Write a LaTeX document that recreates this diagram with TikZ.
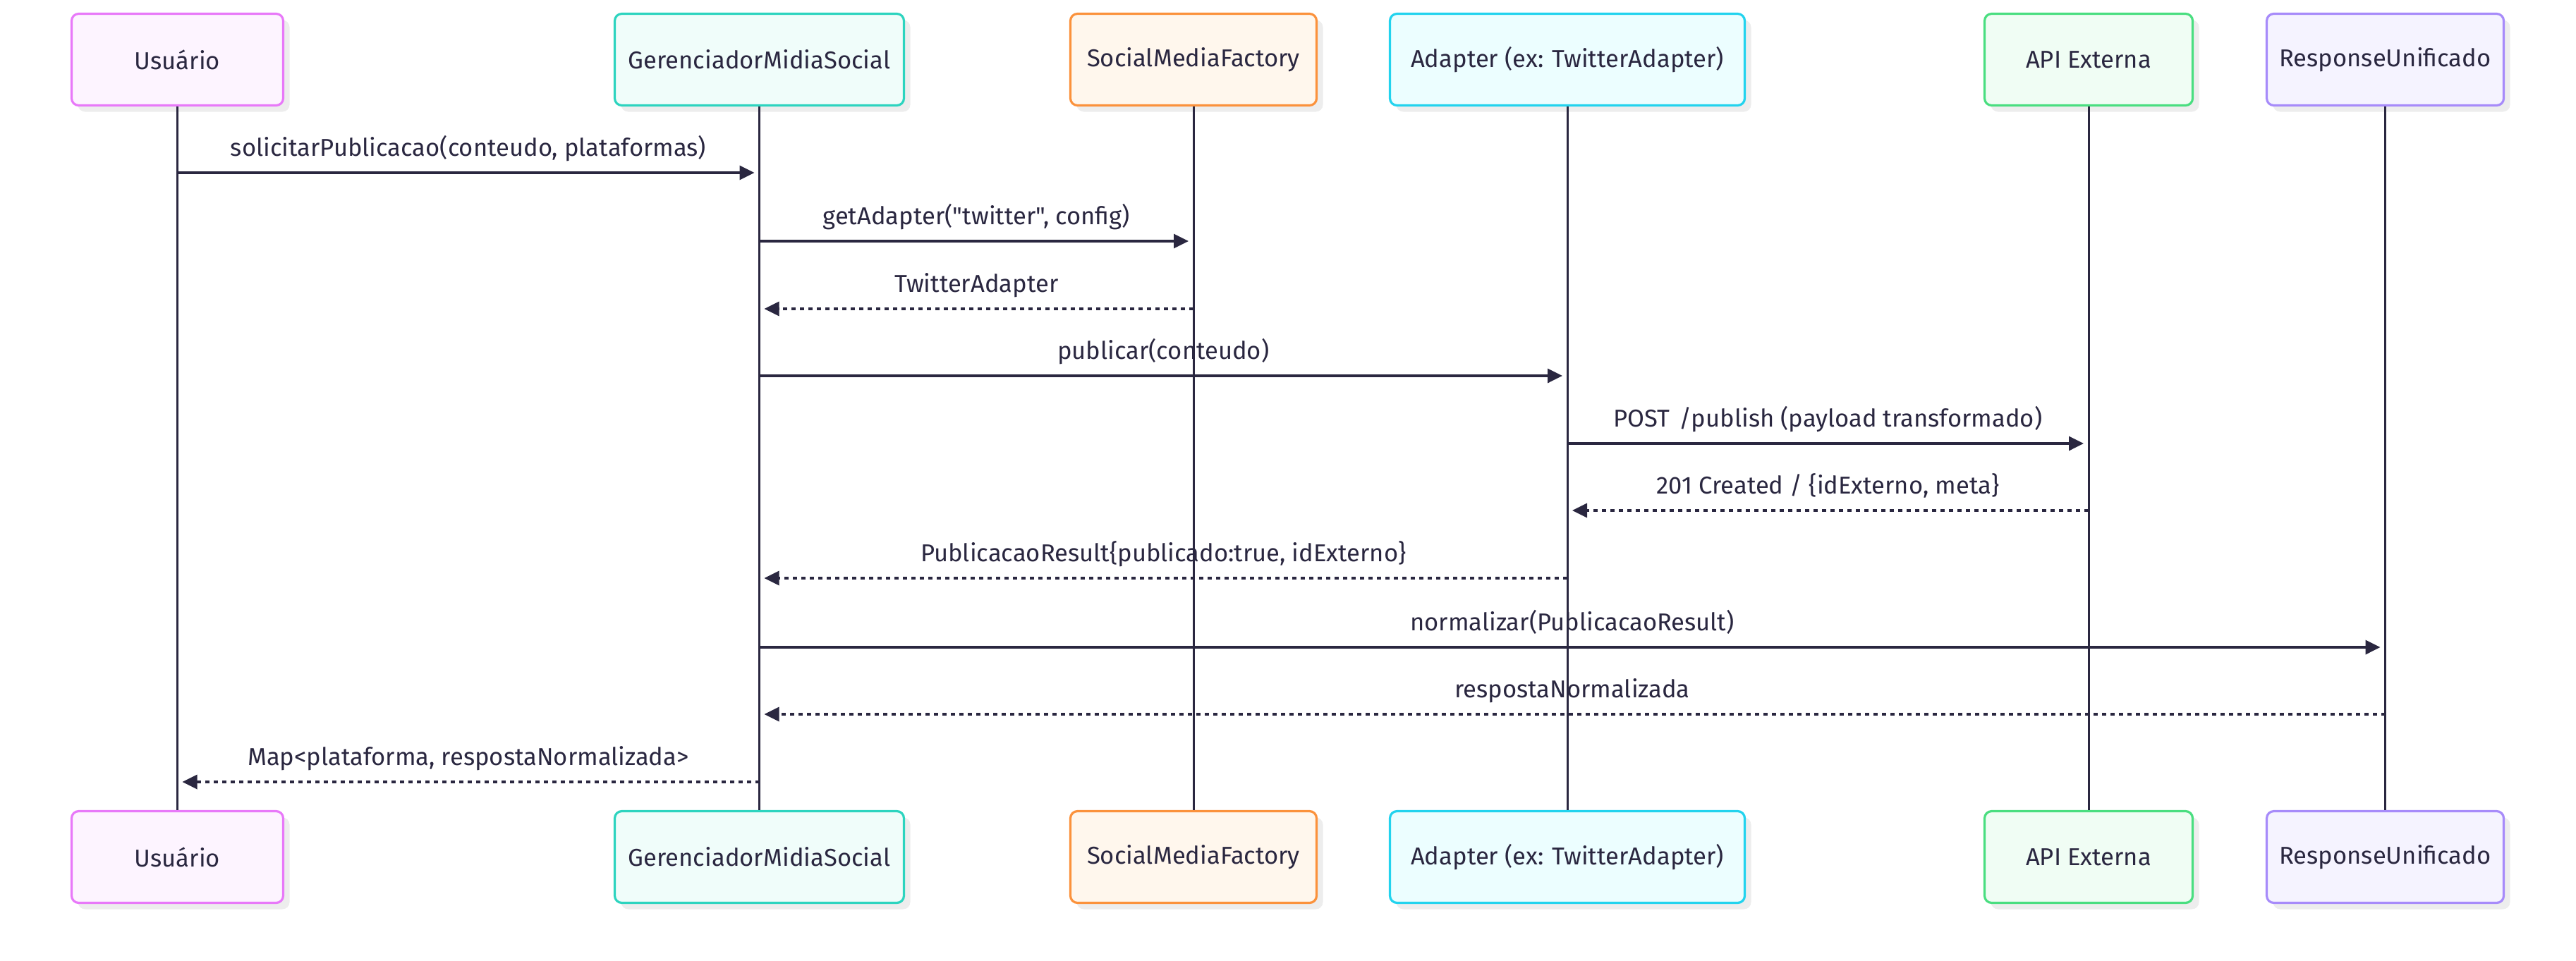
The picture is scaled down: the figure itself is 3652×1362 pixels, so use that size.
\documentclass[tikz,border=0pt]{standalone}
\usepackage{fontspec}
\setmainfont{Fira Sans}[Ligatures=TeXOff]
\usetikzlibrary{arrows.meta,shadows}
\definecolor{ink}{HTML}{2A2740}
\definecolor{pinkB}{HTML}{E879F9}\definecolor{pinkF}{HTML}{FDF4FF}
\definecolor{tealB}{HTML}{2DD4BF}\definecolor{tealF}{HTML}{F0FDFA}
\definecolor{orgB}{HTML}{FB923C}\definecolor{orgF}{HTML}{FFF7ED}
\definecolor{cyanB}{HTML}{22D3EE}\definecolor{cyanF}{HTML}{ECFEFF}
\definecolor{grnB}{HTML}{4ADE80}\definecolor{grnF}{HTML}{F0FDF4}
\definecolor{vioB}{HTML}{A78BFA}\definecolor{vioF}{HTML}{F5F3FF}
\tikzset{
  actor/.style={draw, rounded corners=5pt, line width=1.6pt, minimum height=65pt,
    inner sep=0pt, text=ink, drop shadow={shadow xshift=4.5pt, shadow yshift=-4.5pt, fill=black!7, opacity=1}},
  life/.style={draw=ink, line width=1.5pt},
  msg/.style={draw=ink, line width=1.7pt, shorten >=3.5pt,
    -{Triangle[length=10.5pt,width=10pt]}},
  reply/.style={msg, dash pattern=on 3pt off 3pt},
  lbl/.style={anchor=base, yshift=12pt, text=ink, inner sep=0pt}
}
\newcommand{\seqmsg}[5]{%
  \draw[#5] (#1.south |- 0,#3) -- node[lbl]{#4} (#2.south |- 0,#3);}
\begin{document}
\begin{tikzpicture}[x=0.5pt, y=-0.5pt, font=\fontsize{17.3}{21}\selectfont]
\useasboundingbox (0,0) rectangle (3652,1362);
% top actors
\node[actor, draw=pinkB, fill=pinkF, minimum width=150pt] (uT) at (251.5,84.5) {Usuário};
\node[actor, draw=tealB, fill=tealF, minimum width=205pt] (gT) at (1076.5,84.5) {GerenciadorMidiaSocial};
\node[actor, draw=orgB, fill=orgF, minimum width=174.5pt] (fT) at (1692,84.5) {SocialMediaFactory};
\node[actor, draw=cyanB, fill=cyanF, minimum width=251.5pt] (aT) at (2222,84.5) {Adapter (ex: TwitterAdapter)};
\node[actor, draw=grnB, fill=grnF, minimum width=147.5pt] (eT) at (2961,84.5) {API Externa};
\node[actor, draw=vioB, fill=vioF, minimum width=168pt] (rT) at (3381.5,84.5) {ResponseUnificado};
% bottom actors
\node[actor, draw=pinkB, fill=pinkF, minimum width=150pt] (uB) at (251.5,1215.5) {Usuário};
\node[actor, draw=tealB, fill=tealF, minimum width=205pt] (gB) at (1076.5,1215.5) {GerenciadorMidiaSocial};
\node[actor, draw=orgB, fill=orgF, minimum width=174.5pt] (fB) at (1692,1215.5) {SocialMediaFactory};
\node[actor, draw=cyanB, fill=cyanF, minimum width=251.5pt] (aB) at (2222,1215.5) {Adapter (ex: TwitterAdapter)};
\node[actor, draw=grnB, fill=grnF, minimum width=147.5pt] (eB) at (2961,1215.5) {API Externa};
\node[actor, draw=vioB, fill=vioF, minimum width=168pt] (rB) at (3381.5,1215.5) {ResponseUnificado};
% lifelines
\foreach \n in {u,g,f,a,e,r}{\draw[life] (\n T.south) -- (\n B.north);}
% messages
\seqmsg{uT}{gT}{245}{solicitarPublicacao(conteudo, plataformas)}{msg}
\seqmsg{gT}{fT}{342}{getAdapter("twitter", config)}{msg}
\seqmsg{fT}{gT}{438}{TwitterAdapter}{reply}
\seqmsg{gT}{aT}{533}{publicar(conteudo)}{msg}
\seqmsg{aT}{eT}{629}{POST\kern2pt\ /publish (payload transformado)}{msg}
\seqmsg{eT}{aT}{724}{201 Created / \{idExterno, meta\}}{reply}
\seqmsg{aT}{gT}{820}{PublicacaoResult\{publicado:true, idExterno\}}{reply}
\seqmsg{gT}{rT}{918}{normalizar(PublicacaoResult)}{msg}
\seqmsg{rT}{gT}{1013}{respostaNormalizada}{reply}
\seqmsg{gT}{uT}{1109}{Map<plataforma, respostaNormalizada>}{reply}
\end{tikzpicture}
\end{document}
